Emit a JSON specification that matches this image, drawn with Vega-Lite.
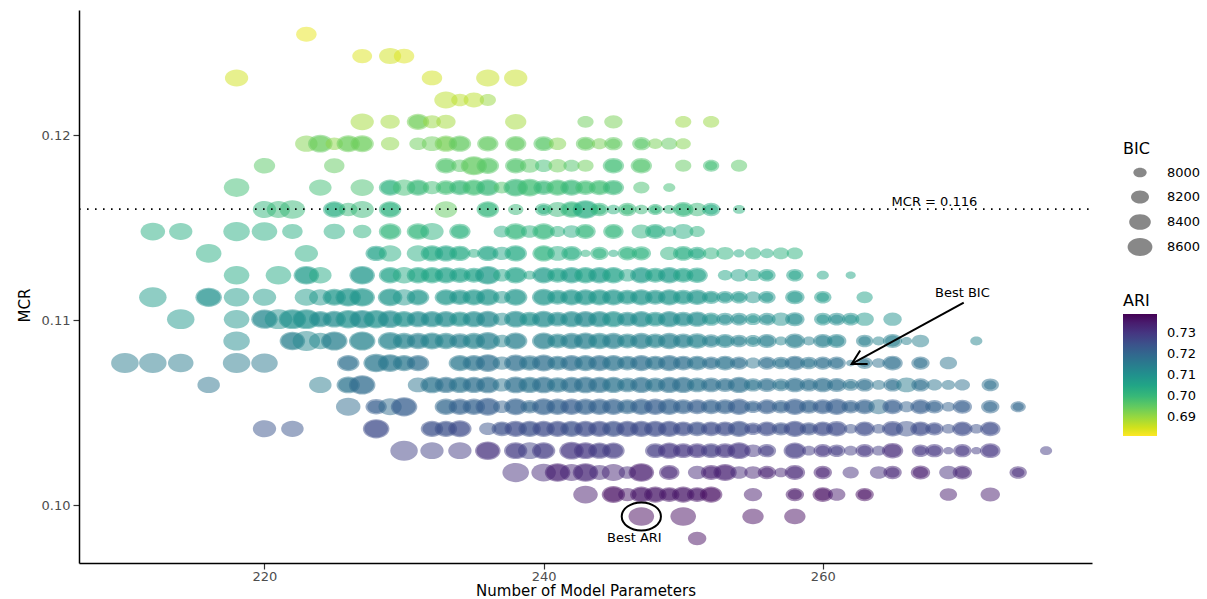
{
  "$schema": "https://vega.github.io/schema/vega-lite/v6.json",
  "width": 1013,
  "height": 553,
  "autosize": {"type": "none"},
  "padding": {"left": 79, "top": 10, "right": 115, "bottom": 36},
  "background": "white",
  "config": {
    "view": {"stroke": null},
    "axis": {
      "grid": false,
      "domainColor": "#000000",
      "domainWidth": 1.5,
      "tickColor": "#333333",
      "tickSize": 6,
      "tickWidth": 1.2,
      "labelColor": "#4d4d4d",
      "labelFont": "DejaVu Sans",
      "labelFontSize": 13,
      "labelPadding": 3,
      "titleFont": "DejaVu Sans",
      "titleFontSize": 15,
      "titleFontWeight": "normal",
      "titleColor": "#000000"
    },
    "legend": {
      "titleFont": "DejaVu Sans",
      "titleFontSize": 16,
      "titleFontWeight": "normal",
      "titleColor": "#000000",
      "labelFont": "DejaVu Sans",
      "labelFontSize": 13,
      "labelColor": "#000000",
      "padding": 0
    }
  },
  "datasets": {
    "models": [
      {"params":223,"mcr":0.12544,"bic":8330,"ari":0.683},
      {"params":227,"mcr":0.12426,"bic":8300,"ari":0.684},{"params":229,"mcr":0.12426,"bic":8430,"ari":0.685},{"params":230,"mcr":0.12426,"bic":8330,"ari":0.684},
      {"params":218,"mcr":0.12308,"bic":8500,"ari":0.685},{"params":232,"mcr":0.12308,"bic":8330,"ari":0.685},{"params":236,"mcr":0.12308,"bic":8500,"ari":0.686},{"params":238,"mcr":0.12308,"bic":8500,"ari":0.686},
      {"params":233,"mcr":0.12189,"bic":8500,"ari":0.687},{"params":234,"mcr":0.12189,"bic":8170,"ari":0.687},{"params":235,"mcr":0.12189,"bic":8330,"ari":0.687},{"params":236,"mcr":0.12189,"bic":8120,"ari":0.690},
      {"params":227,"mcr":0.12071,"bic":8500,"ari":0.689},{"params":229,"mcr":0.12071,"bic":8270,"ari":0.689},{"params":231,"mcr":0.12071,"bic":8450,"ari":0.693},{"params":231,"mcr":0.12071,"bic":8250,"ari":0.694},{"params":232,"mcr":0.12071,"bic":8200,"ari":0.690},{"params":233,"mcr":0.12071,"bic":8270,"ari":0.689},{"params":238,"mcr":0.12071,"bic":8380,"ari":0.689},{"params":243,"mcr":0.12071,"bic":8120,"ari":0.694},{"params":245,"mcr":0.12071,"bic":8220,"ari":0.693},{"params":250,"mcr":0.12071,"bic":8120,"ari":0.690},{"params":252,"mcr":0.12071,"bic":8120,"ari":0.690},
      {"params":223,"mcr":0.11953,"bic":8450,"ari":0.692},{"params":224,"mcr":0.11953,"bic":8580,"ari":0.695},{"params":224,"mcr":0.11953,"bic":8380,"ari":0.694},{"params":225,"mcr":0.11953,"bic":8170,"ari":0.691},{"params":226,"mcr":0.11953,"bic":8500,"ari":0.694},{"params":226,"mcr":0.11953,"bic":8300,"ari":0.694},{"params":227,"mcr":0.11953,"bic":8500,"ari":0.694},{"params":227,"mcr":0.11953,"bic":8300,"ari":0.694},{"params":229,"mcr":0.11953,"bic":8220,"ari":0.691},{"params":231,"mcr":0.11953,"bic":8170,"ari":0.694},{"params":232,"mcr":0.11953,"bic":8330,"ari":0.694},{"params":233,"mcr":0.11953,"bic":8450,"ari":0.693},{"params":233,"mcr":0.11953,"bic":8250,"ari":0.693},{"params":234,"mcr":0.11953,"bic":8450,"ari":0.695},{"params":234,"mcr":0.11953,"bic":8250,"ari":0.695},{"params":236,"mcr":0.11953,"bic":8380,"ari":0.695},{"params":236,"mcr":0.11953,"bic":8180,"ari":0.695},{"params":238,"mcr":0.11953,"bic":8380,"ari":0.695},{"params":238,"mcr":0.11953,"bic":8180,"ari":0.695},{"params":240,"mcr":0.11953,"bic":8330,"ari":0.696},{"params":240,"mcr":0.11953,"bic":8130,"ari":0.696},{"params":241,"mcr":0.11953,"bic":8170,"ari":0.692},{"params":243,"mcr":0.11953,"bic":8270,"ari":0.695},{"params":243,"mcr":0.11953,"bic":8070,"ari":0.695},{"params":244,"mcr":0.11953,"bic":8080,"ari":0.693},{"params":245,"mcr":0.11953,"bic":8220,"ari":0.695},{"params":245,"mcr":0.11953,"bic":8020,"ari":0.695},{"params":247,"mcr":0.11953,"bic":8220,"ari":0.696},{"params":247,"mcr":0.11953,"bic":8020,"ari":0.696},{"params":248,"mcr":0.11953,"bic":8040,"ari":0.693},{"params":249,"mcr":0.11953,"bic":8120,"ari":0.695},{"params":250,"mcr":0.11953,"bic":8080,"ari":0.692},
      {"params":220,"mcr":0.11834,"bic":8380,"ari":0.696},{"params":225,"mcr":0.11834,"bic":8330,"ari":0.695},{"params":233,"mcr":0.11834,"bic":8380,"ari":0.697},{"params":233,"mcr":0.11834,"bic":8180,"ari":0.697},{"params":234,"mcr":0.11834,"bic":8170,"ari":0.696},{"params":235,"mcr":0.11834,"bic":8700,"ari":0.695},{"params":235,"mcr":0.11834,"bic":8500,"ari":0.695},{"params":236,"mcr":0.11834,"bic":8450,"ari":0.696},{"params":236,"mcr":0.11834,"bic":8250,"ari":0.696},{"params":238,"mcr":0.11834,"bic":8380,"ari":0.697},{"params":238,"mcr":0.11834,"bic":8180,"ari":0.697},{"params":239,"mcr":0.11834,"bic":8270,"ari":0.696},{"params":240,"mcr":0.11834,"bic":8170,"ari":0.699},{"params":241,"mcr":0.11834,"bic":8220,"ari":0.694},{"params":242,"mcr":0.11834,"bic":8120,"ari":0.697},{"params":243,"mcr":0.11834,"bic":8120,"ari":0.694},{"params":245,"mcr":0.11834,"bic":8380,"ari":0.699},{"params":245,"mcr":0.11834,"bic":8180,"ari":0.699},{"params":247,"mcr":0.11834,"bic":8380,"ari":0.697},{"params":247,"mcr":0.11834,"bic":8180,"ari":0.697},{"params":250,"mcr":0.11834,"bic":8120,"ari":0.695},{"params":252,"mcr":0.11834,"bic":8120,"ari":0.699},{"params":252,"mcr":0.11834,"bic":7960,"ari":0.699},{"params":254,"mcr":0.11834,"bic":8120,"ari":0.696},
      {"params":218,"mcr":0.11716,"bic":8650,"ari":0.699},{"params":224,"mcr":0.11716,"bic":8450,"ari":0.699},{"params":227,"mcr":0.11716,"bic":8500,"ari":0.698},{"params":229,"mcr":0.11716,"bic":8450,"ari":0.702},{"params":229,"mcr":0.11716,"bic":8250,"ari":0.702},{"params":230,"mcr":0.11716,"bic":8450,"ari":0.699},{"params":231,"mcr":0.11716,"bic":8450,"ari":0.700},{"params":231,"mcr":0.11716,"bic":8250,"ari":0.700},{"params":232,"mcr":0.11716,"bic":8220,"ari":0.699},{"params":233,"mcr":0.11716,"bic":8330,"ari":0.699},{"params":233,"mcr":0.11716,"bic":8130,"ari":0.699},{"params":234,"mcr":0.11716,"bic":8380,"ari":0.700},{"params":234,"mcr":0.11716,"bic":8180,"ari":0.700},{"params":235,"mcr":0.11716,"bic":8450,"ari":0.699},{"params":235,"mcr":0.11716,"bic":8250,"ari":0.699},{"params":236,"mcr":0.11716,"bic":8500,"ari":0.700},{"params":236,"mcr":0.11716,"bic":8300,"ari":0.700},{"params":237,"mcr":0.11716,"bic":8120,"ari":0.697},{"params":238,"mcr":0.11716,"bic":8580,"ari":0.700},{"params":238,"mcr":0.11716,"bic":8380,"ari":0.700},{"params":239,"mcr":0.11716,"bic":8580,"ari":0.699},{"params":239,"mcr":0.11716,"bic":8380,"ari":0.699},{"params":240,"mcr":0.11716,"bic":8330,"ari":0.700},{"params":240,"mcr":0.11716,"bic":8130,"ari":0.700},{"params":241,"mcr":0.11716,"bic":8450,"ari":0.699},{"params":241,"mcr":0.11716,"bic":8250,"ari":0.699},{"params":242,"mcr":0.11716,"bic":8450,"ari":0.700},{"params":242,"mcr":0.11716,"bic":8250,"ari":0.700},{"params":243,"mcr":0.11716,"bic":8330,"ari":0.699},{"params":243,"mcr":0.11716,"bic":8130,"ari":0.699},{"params":244,"mcr":0.11716,"bic":8380,"ari":0.699},{"params":244,"mcr":0.11716,"bic":8180,"ari":0.699},{"params":245,"mcr":0.11716,"bic":8380,"ari":0.700},{"params":245,"mcr":0.11716,"bic":8180,"ari":0.700},{"params":247,"mcr":0.11716,"bic":8120,"ari":0.698},{"params":249,"mcr":0.11716,"bic":7960,"ari":0.699},
      {"params":220,"mcr":0.11598,"bic":8500,"ari":0.701},{"params":221,"mcr":0.11598,"bic":8500,"ari":0.700},{"params":222,"mcr":0.11598,"bic":8650,"ari":0.700},{"params":225,"mcr":0.11598,"bic":8450,"ari":0.703},{"params":225,"mcr":0.11598,"bic":8250,"ari":0.703},{"params":226,"mcr":0.11598,"bic":8220,"ari":0.700},{"params":227,"mcr":0.11598,"bic":8500,"ari":0.700},{"params":229,"mcr":0.11598,"bic":8450,"ari":0.702},{"params":229,"mcr":0.11598,"bic":8250,"ari":0.702},{"params":233,"mcr":0.11598,"bic":8450,"ari":0.695},{"params":236,"mcr":0.11598,"bic":8450,"ari":0.701},{"params":236,"mcr":0.11598,"bic":8250,"ari":0.701},{"params":238,"mcr":0.11598,"bic":8080,"ari":0.700},{"params":240,"mcr":0.11598,"bic":8170,"ari":0.702},{"params":240,"mcr":0.11598,"bic":7970,"ari":0.702},{"params":241,"mcr":0.11598,"bic":8330,"ari":0.700},{"params":242,"mcr":0.11598,"bic":8450,"ari":0.701},{"params":242,"mcr":0.11598,"bic":8250,"ari":0.701},{"params":243,"mcr":0.11598,"bic":8650,"ari":0.703},{"params":243,"mcr":0.11598,"bic":8450,"ari":0.703},{"params":244,"mcr":0.11598,"bic":8220,"ari":0.701},{"params":244,"mcr":0.11598,"bic":8020,"ari":0.701},{"params":245,"mcr":0.11598,"bic":8000,"ari":0.702},{"params":246,"mcr":0.11598,"bic":8220,"ari":0.700},{"params":246,"mcr":0.11598,"bic":8020,"ari":0.700},{"params":247,"mcr":0.11598,"bic":8000,"ari":0.700},{"params":248,"mcr":0.11598,"bic":8080,"ari":0.701},{"params":248,"mcr":0.11598,"bic":7930,"ari":0.701},{"params":249,"mcr":0.11598,"bic":7960,"ari":0.701},{"params":250,"mcr":0.11598,"bic":8330,"ari":0.701},{"params":250,"mcr":0.11598,"bic":8130,"ari":0.701},{"params":251,"mcr":0.11598,"bic":8220,"ari":0.700},{"params":252,"mcr":0.11598,"bic":8220,"ari":0.703},{"params":252,"mcr":0.11598,"bic":8020,"ari":0.703},{"params":254,"mcr":0.11598,"bic":7960,"ari":0.702},
      {"params":212,"mcr":0.11479,"bic":8580,"ari":0.703},{"params":214,"mcr":0.11479,"bic":8500,"ari":0.703},{"params":218,"mcr":0.11479,"bic":8720,"ari":0.703},{"params":220,"mcr":0.11479,"bic":8650,"ari":0.703},{"params":222,"mcr":0.11479,"bic":8330,"ari":0.703},{"params":225,"mcr":0.11479,"bic":8380,"ari":0.703},{"params":227,"mcr":0.11479,"bic":8220,"ari":0.702},{"params":229,"mcr":0.11479,"bic":8450,"ari":0.701},{"params":229,"mcr":0.11479,"bic":8250,"ari":0.701},{"params":231,"mcr":0.11479,"bic":8450,"ari":0.701},{"params":231,"mcr":0.11479,"bic":8250,"ari":0.701},{"params":232,"mcr":0.11479,"bic":8500,"ari":0.702},{"params":234,"mcr":0.11479,"bic":8380,"ari":0.702},{"params":234,"mcr":0.11479,"bic":8180,"ari":0.702},{"params":237,"mcr":0.11479,"bic":8120,"ari":0.703},{"params":238,"mcr":0.11479,"bic":8450,"ari":0.701},{"params":238,"mcr":0.11479,"bic":8250,"ari":0.701},{"params":239,"mcr":0.11479,"bic":8170,"ari":0.702},{"params":240,"mcr":0.11479,"bic":8450,"ari":0.701},{"params":240,"mcr":0.11479,"bic":8250,"ari":0.701},{"params":241,"mcr":0.11479,"bic":8080,"ari":0.702},{"params":242,"mcr":0.11479,"bic":8170,"ari":0.703},{"params":243,"mcr":0.11479,"bic":8330,"ari":0.701},{"params":243,"mcr":0.11479,"bic":8130,"ari":0.701},{"params":245,"mcr":0.11479,"bic":8330,"ari":0.701},{"params":245,"mcr":0.11479,"bic":8130,"ari":0.701},{"params":247,"mcr":0.11479,"bic":8270,"ari":0.702},{"params":248,"mcr":0.11479,"bic":8330,"ari":0.703},{"params":248,"mcr":0.11479,"bic":8130,"ari":0.703},{"params":249,"mcr":0.11479,"bic":8040,"ari":0.703},{"params":250,"mcr":0.11479,"bic":8330,"ari":0.703},{"params":251,"mcr":0.11479,"bic":8080,"ari":0.702},
      {"params":216,"mcr":0.11361,"bic":8650,"ari":0.703},{"params":223,"mcr":0.11361,"bic":8500,"ari":0.703},{"params":228,"mcr":0.11361,"bic":8380,"ari":0.706},{"params":228,"mcr":0.11361,"bic":8180,"ari":0.706},{"params":229,"mcr":0.11361,"bic":8450,"ari":0.703},{"params":231,"mcr":0.11361,"bic":8450,"ari":0.703},{"params":232,"mcr":0.11361,"bic":8450,"ari":0.704},{"params":232,"mcr":0.11361,"bic":8250,"ari":0.704},{"params":233,"mcr":0.11361,"bic":8450,"ari":0.705},{"params":233,"mcr":0.11361,"bic":8250,"ari":0.705},{"params":234,"mcr":0.11361,"bic":8380,"ari":0.704},{"params":234,"mcr":0.11361,"bic":8180,"ari":0.704},{"params":235,"mcr":0.11361,"bic":7960,"ari":0.703},{"params":236,"mcr":0.11361,"bic":8380,"ari":0.705},{"params":236,"mcr":0.11361,"bic":8180,"ari":0.705},{"params":237,"mcr":0.11361,"bic":8220,"ari":0.705},{"params":238,"mcr":0.11361,"bic":8450,"ari":0.704},{"params":238,"mcr":0.11361,"bic":8250,"ari":0.704},{"params":240,"mcr":0.11361,"bic":8450,"ari":0.702},{"params":240,"mcr":0.11361,"bic":8250,"ari":0.702},{"params":241,"mcr":0.11361,"bic":8330,"ari":0.703},{"params":242,"mcr":0.11361,"bic":8330,"ari":0.703},{"params":242,"mcr":0.11361,"bic":8130,"ari":0.703},{"params":243,"mcr":0.11361,"bic":7900,"ari":0.702},{"params":244,"mcr":0.11361,"bic":8220,"ari":0.702},{"params":244,"mcr":0.11361,"bic":8020,"ari":0.702},{"params":245,"mcr":0.11361,"bic":7900,"ari":0.703},{"params":246,"mcr":0.11361,"bic":8270,"ari":0.702},{"params":246,"mcr":0.11361,"bic":8070,"ari":0.702},{"params":247,"mcr":0.11361,"bic":8270,"ari":0.702},{"params":247,"mcr":0.11361,"bic":8070,"ari":0.702},{"params":249,"mcr":0.11361,"bic":8220,"ari":0.702},{"params":250,"mcr":0.11361,"bic":8330,"ari":0.703},{"params":250,"mcr":0.11361,"bic":8130,"ari":0.703},{"params":251,"mcr":0.11361,"bic":8220,"ari":0.704},{"params":251,"mcr":0.11361,"bic":8020,"ari":0.704},{"params":252,"mcr":0.11361,"bic":8120,"ari":0.702},{"params":253,"mcr":0.11361,"bic":8170,"ari":0.702},{"params":254,"mcr":0.11361,"bic":7930,"ari":0.704},{"params":255,"mcr":0.11361,"bic":8120,"ari":0.702},{"params":256,"mcr":0.11361,"bic":8000,"ari":0.703},{"params":257,"mcr":0.11361,"bic":8120,"ari":0.702},{"params":258,"mcr":0.11361,"bic":8120,"ari":0.702},
      {"params":218,"mcr":0.11243,"bic":8650,"ari":0.704},{"params":221,"mcr":0.11243,"bic":8650,"ari":0.704},{"params":223,"mcr":0.11243,"bic":8650,"ari":0.707},{"params":223,"mcr":0.11243,"bic":8450,"ari":0.707},{"params":224,"mcr":0.11243,"bic":8450,"ari":0.704},{"params":227,"mcr":0.11243,"bic":8650,"ari":0.708},{"params":227,"mcr":0.11243,"bic":8450,"ari":0.708},{"params":229,"mcr":0.11243,"bic":8450,"ari":0.706},{"params":229,"mcr":0.11243,"bic":8250,"ari":0.706},{"params":230,"mcr":0.11243,"bic":8450,"ari":0.704},{"params":231,"mcr":0.11243,"bic":8450,"ari":0.705},{"params":231,"mcr":0.11243,"bic":8250,"ari":0.705},{"params":232,"mcr":0.11243,"bic":8450,"ari":0.705},{"params":232,"mcr":0.11243,"bic":8250,"ari":0.705},{"params":233,"mcr":0.11243,"bic":8450,"ari":0.706},{"params":233,"mcr":0.11243,"bic":8250,"ari":0.706},{"params":234,"mcr":0.11243,"bic":8380,"ari":0.706},{"params":234,"mcr":0.11243,"bic":8180,"ari":0.706},{"params":235,"mcr":0.11243,"bic":8330,"ari":0.706},{"params":235,"mcr":0.11243,"bic":8130,"ari":0.706},{"params":236,"mcr":0.11243,"bic":8650,"ari":0.707},{"params":236,"mcr":0.11243,"bic":8450,"ari":0.707},{"params":237,"mcr":0.11243,"bic":8170,"ari":0.705},{"params":238,"mcr":0.11243,"bic":8450,"ari":0.706},{"params":238,"mcr":0.11243,"bic":8250,"ari":0.706},{"params":239,"mcr":0.11243,"bic":7960,"ari":0.705},{"params":240,"mcr":0.11243,"bic":8450,"ari":0.707},{"params":240,"mcr":0.11243,"bic":8250,"ari":0.707},{"params":241,"mcr":0.11243,"bic":8330,"ari":0.706},{"params":241,"mcr":0.11243,"bic":8130,"ari":0.706},{"params":242,"mcr":0.11243,"bic":8450,"ari":0.707},{"params":242,"mcr":0.11243,"bic":8250,"ari":0.707},{"params":243,"mcr":0.11243,"bic":8450,"ari":0.706},{"params":243,"mcr":0.11243,"bic":8250,"ari":0.706},{"params":244,"mcr":0.11243,"bic":8450,"ari":0.707},{"params":244,"mcr":0.11243,"bic":8250,"ari":0.707},{"params":245,"mcr":0.11243,"bic":8450,"ari":0.706},{"params":245,"mcr":0.11243,"bic":8250,"ari":0.706},{"params":246,"mcr":0.11243,"bic":8170,"ari":0.705},{"params":247,"mcr":0.11243,"bic":8450,"ari":0.707},{"params":247,"mcr":0.11243,"bic":8250,"ari":0.707},{"params":248,"mcr":0.11243,"bic":8330,"ari":0.706},{"params":248,"mcr":0.11243,"bic":8130,"ari":0.706},{"params":249,"mcr":0.11243,"bic":8450,"ari":0.707},{"params":249,"mcr":0.11243,"bic":8250,"ari":0.707},{"params":250,"mcr":0.11243,"bic":8330,"ari":0.706},{"params":250,"mcr":0.11243,"bic":8130,"ari":0.706},{"params":251,"mcr":0.11243,"bic":8380,"ari":0.706},{"params":251,"mcr":0.11243,"bic":8180,"ari":0.706},{"params":253,"mcr":0.11243,"bic":8040,"ari":0.705},{"params":254,"mcr":0.11243,"bic":8170,"ari":0.706},{"params":255,"mcr":0.11243,"bic":8120,"ari":0.705},{"params":256,"mcr":0.11243,"bic":8170,"ari":0.706},{"params":256,"mcr":0.11243,"bic":7970,"ari":0.706},{"params":258,"mcr":0.11243,"bic":8170,"ari":0.706},{"params":258,"mcr":0.11243,"bic":7970,"ari":0.706},{"params":260,"mcr":0.11243,"bic":7960,"ari":0.705},{"params":262,"mcr":0.11243,"bic":7900,"ari":0.705},
      {"params":212,"mcr":0.11124,"bic":8790,"ari":0.707},{"params":216,"mcr":0.11124,"bic":8720,"ari":0.710},{"params":216,"mcr":0.11124,"bic":8520,"ari":0.710},{"params":218,"mcr":0.11124,"bic":8650,"ari":0.707},{"params":220,"mcr":0.11124,"bic":8500,"ari":0.707},{"params":223,"mcr":0.11124,"bic":8500,"ari":0.707},{"params":224,"mcr":0.11124,"bic":8450,"ari":0.708},{"params":225,"mcr":0.11124,"bic":8500,"ari":0.708},{"params":225,"mcr":0.11124,"bic":8300,"ari":0.708},{"params":226,"mcr":0.11124,"bic":8650,"ari":0.709},{"params":226,"mcr":0.11124,"bic":8450,"ari":0.709},{"params":227,"mcr":0.11124,"bic":8650,"ari":0.709},{"params":227,"mcr":0.11124,"bic":8450,"ari":0.709},{"params":229,"mcr":0.11124,"bic":8580,"ari":0.709},{"params":229,"mcr":0.11124,"bic":8380,"ari":0.709},{"params":230,"mcr":0.11124,"bic":8450,"ari":0.708},{"params":231,"mcr":0.11124,"bic":8450,"ari":0.709},{"params":231,"mcr":0.11124,"bic":8250,"ari":0.709},{"params":233,"mcr":0.11124,"bic":8450,"ari":0.708},{"params":233,"mcr":0.11124,"bic":8250,"ari":0.708},{"params":234,"mcr":0.11124,"bic":8380,"ari":0.709},{"params":234,"mcr":0.11124,"bic":8180,"ari":0.709},{"params":235,"mcr":0.11124,"bic":8450,"ari":0.708},{"params":235,"mcr":0.11124,"bic":8250,"ari":0.708},{"params":236,"mcr":0.11124,"bic":8500,"ari":0.709},{"params":236,"mcr":0.11124,"bic":8300,"ari":0.709},{"params":237,"mcr":0.11124,"bic":8170,"ari":0.708},{"params":238,"mcr":0.11124,"bic":8500,"ari":0.709},{"params":238,"mcr":0.11124,"bic":8300,"ari":0.709},{"params":240,"mcr":0.11124,"bic":8500,"ari":0.709},{"params":240,"mcr":0.11124,"bic":8300,"ari":0.709},{"params":241,"mcr":0.11124,"bic":8330,"ari":0.708},{"params":241,"mcr":0.11124,"bic":8130,"ari":0.708},{"params":242,"mcr":0.11124,"bic":8450,"ari":0.709},{"params":242,"mcr":0.11124,"bic":8250,"ari":0.709},{"params":243,"mcr":0.11124,"bic":8450,"ari":0.709},{"params":243,"mcr":0.11124,"bic":8250,"ari":0.709},{"params":244,"mcr":0.11124,"bic":8450,"ari":0.708},{"params":244,"mcr":0.11124,"bic":8250,"ari":0.708},{"params":245,"mcr":0.11124,"bic":8450,"ari":0.709},{"params":245,"mcr":0.11124,"bic":8250,"ari":0.709},{"params":246,"mcr":0.11124,"bic":8330,"ari":0.708},{"params":246,"mcr":0.11124,"bic":8130,"ari":0.708},{"params":247,"mcr":0.11124,"bic":8450,"ari":0.709},{"params":247,"mcr":0.11124,"bic":8250,"ari":0.709},{"params":248,"mcr":0.11124,"bic":8330,"ari":0.709},{"params":248,"mcr":0.11124,"bic":8130,"ari":0.709},{"params":249,"mcr":0.11124,"bic":8450,"ari":0.709},{"params":249,"mcr":0.11124,"bic":8250,"ari":0.709},{"params":250,"mcr":0.11124,"bic":8330,"ari":0.708},{"params":250,"mcr":0.11124,"bic":8130,"ari":0.708},{"params":251,"mcr":0.11124,"bic":8380,"ari":0.709},{"params":251,"mcr":0.11124,"bic":8180,"ari":0.709},{"params":252,"mcr":0.11124,"bic":8220,"ari":0.708},{"params":252,"mcr":0.11124,"bic":8020,"ari":0.708},{"params":253,"mcr":0.11124,"bic":8170,"ari":0.709},{"params":253,"mcr":0.11124,"bic":7970,"ari":0.709},{"params":254,"mcr":0.11124,"bic":8170,"ari":0.708},{"params":254,"mcr":0.11124,"bic":7970,"ari":0.708},{"params":255,"mcr":0.11124,"bic":8120,"ari":0.709},{"params":256,"mcr":0.11124,"bic":8170,"ari":0.709},{"params":256,"mcr":0.11124,"bic":7970,"ari":0.709},{"params":258,"mcr":0.11124,"bic":8270,"ari":0.708},{"params":258,"mcr":0.11124,"bic":8070,"ari":0.708},{"params":260,"mcr":0.11124,"bic":8170,"ari":0.707},{"params":260,"mcr":0.11124,"bic":7970,"ari":0.707},{"params":263,"mcr":0.11124,"bic":8120,"ari":0.706},
      {"params":214,"mcr":0.11006,"bic":8790,"ari":0.708},{"params":218,"mcr":0.11006,"bic":8650,"ari":0.709},{"params":220,"mcr":0.11006,"bic":8720,"ari":0.712},{"params":220,"mcr":0.11006,"bic":8520,"ari":0.712},{"params":221,"mcr":0.11006,"bic":8790,"ari":0.710},{"params":222,"mcr":0.11006,"bic":8790,"ari":0.710},{"params":222,"mcr":0.11006,"bic":8590,"ari":0.710},{"params":223,"mcr":0.11006,"bic":8790,"ari":0.710},{"params":223,"mcr":0.11006,"bic":8590,"ari":0.710},{"params":224,"mcr":0.11006,"bic":8450,"ari":0.711},{"params":224,"mcr":0.11006,"bic":8250,"ari":0.711},{"params":225,"mcr":0.11006,"bic":8500,"ari":0.711},{"params":225,"mcr":0.11006,"bic":8300,"ari":0.711},{"params":226,"mcr":0.11006,"bic":8650,"ari":0.710},{"params":226,"mcr":0.11006,"bic":8450,"ari":0.710},{"params":227,"mcr":0.11006,"bic":8650,"ari":0.711},{"params":227,"mcr":0.11006,"bic":8450,"ari":0.711},{"params":228,"mcr":0.11006,"bic":8650,"ari":0.710},{"params":228,"mcr":0.11006,"bic":8450,"ari":0.710},{"params":229,"mcr":0.11006,"bic":8580,"ari":0.711},{"params":229,"mcr":0.11006,"bic":8380,"ari":0.711},{"params":230,"mcr":0.11006,"bic":8450,"ari":0.710},{"params":230,"mcr":0.11006,"bic":8250,"ari":0.710},{"params":231,"mcr":0.11006,"bic":8450,"ari":0.711},{"params":231,"mcr":0.11006,"bic":8250,"ari":0.711},{"params":232,"mcr":0.11006,"bic":8450,"ari":0.711},{"params":232,"mcr":0.11006,"bic":8250,"ari":0.711},{"params":233,"mcr":0.11006,"bic":8450,"ari":0.711},{"params":233,"mcr":0.11006,"bic":8250,"ari":0.711},{"params":234,"mcr":0.11006,"bic":8380,"ari":0.710},{"params":234,"mcr":0.11006,"bic":8180,"ari":0.710},{"params":235,"mcr":0.11006,"bic":8450,"ari":0.711},{"params":235,"mcr":0.11006,"bic":8250,"ari":0.711},{"params":236,"mcr":0.11006,"bic":8500,"ari":0.712},{"params":236,"mcr":0.11006,"bic":8300,"ari":0.712},{"params":237,"mcr":0.11006,"bic":8170,"ari":0.711},{"params":238,"mcr":0.11006,"bic":8500,"ari":0.711},{"params":238,"mcr":0.11006,"bic":8300,"ari":0.711},{"params":239,"mcr":0.11006,"bic":8330,"ari":0.710},{"params":239,"mcr":0.11006,"bic":8130,"ari":0.710},{"params":240,"mcr":0.11006,"bic":8500,"ari":0.711},{"params":240,"mcr":0.11006,"bic":8300,"ari":0.711},{"params":241,"mcr":0.11006,"bic":8330,"ari":0.711},{"params":241,"mcr":0.11006,"bic":8130,"ari":0.711},{"params":242,"mcr":0.11006,"bic":8450,"ari":0.711},{"params":242,"mcr":0.11006,"bic":8250,"ari":0.711},{"params":243,"mcr":0.11006,"bic":8450,"ari":0.712},{"params":243,"mcr":0.11006,"bic":8250,"ari":0.712},{"params":244,"mcr":0.11006,"bic":8450,"ari":0.711},{"params":244,"mcr":0.11006,"bic":8250,"ari":0.711},{"params":245,"mcr":0.11006,"bic":8450,"ari":0.710},{"params":245,"mcr":0.11006,"bic":8250,"ari":0.710},{"params":246,"mcr":0.11006,"bic":8330,"ari":0.711},{"params":246,"mcr":0.11006,"bic":8130,"ari":0.711},{"params":247,"mcr":0.11006,"bic":8450,"ari":0.711},{"params":247,"mcr":0.11006,"bic":8250,"ari":0.711},{"params":248,"mcr":0.11006,"bic":8330,"ari":0.710},{"params":248,"mcr":0.11006,"bic":8130,"ari":0.710},{"params":249,"mcr":0.11006,"bic":8450,"ari":0.711},{"params":249,"mcr":0.11006,"bic":8250,"ari":0.711},{"params":250,"mcr":0.11006,"bic":8330,"ari":0.711},{"params":250,"mcr":0.11006,"bic":8130,"ari":0.711},{"params":251,"mcr":0.11006,"bic":8380,"ari":0.711},{"params":251,"mcr":0.11006,"bic":8180,"ari":0.711},{"params":252,"mcr":0.11006,"bic":8220,"ari":0.710},{"params":252,"mcr":0.11006,"bic":8020,"ari":0.710},{"params":253,"mcr":0.11006,"bic":8170,"ari":0.711},{"params":253,"mcr":0.11006,"bic":7970,"ari":0.711},{"params":254,"mcr":0.11006,"bic":8170,"ari":0.711},{"params":254,"mcr":0.11006,"bic":7970,"ari":0.711},{"params":255,"mcr":0.11006,"bic":8120,"ari":0.710},{"params":255,"mcr":0.11006,"bic":7920,"ari":0.710},{"params":256,"mcr":0.11006,"bic":8170,"ari":0.711},{"params":256,"mcr":0.11006,"bic":7970,"ari":0.711},{"params":257,"mcr":0.11006,"bic":8220,"ari":0.710},{"params":258,"mcr":0.11006,"bic":8270,"ari":0.711},{"params":258,"mcr":0.11006,"bic":8070,"ari":0.711},{"params":260,"mcr":0.11006,"bic":8170,"ari":0.710},{"params":260,"mcr":0.11006,"bic":7970,"ari":0.710},{"params":261,"mcr":0.11006,"bic":8170,"ari":0.711},{"params":261,"mcr":0.11006,"bic":7970,"ari":0.711},{"params":262,"mcr":0.11006,"bic":8170,"ari":0.710},{"params":262,"mcr":0.11006,"bic":7970,"ari":0.710},{"params":263,"mcr":0.11006,"bic":8220,"ari":0.708},{"params":265,"mcr":0.11006,"bic":8220,"ari":0.710},
      {"params":218,"mcr":0.10888,"bic":8720,"ari":0.711},{"params":222,"mcr":0.10888,"bic":8650,"ari":0.714},{"params":222,"mcr":0.10888,"bic":8450,"ari":0.714},{"params":223,"mcr":0.10888,"bic":8790,"ari":0.712},{"params":224,"mcr":0.10888,"bic":8450,"ari":0.712},{"params":225,"mcr":0.10888,"bic":8720,"ari":0.714},{"params":225,"mcr":0.10888,"bic":8520,"ari":0.714},{"params":227,"mcr":0.10888,"bic":8720,"ari":0.713},{"params":227,"mcr":0.10888,"bic":8520,"ari":0.713},{"params":229,"mcr":0.10888,"bic":8580,"ari":0.713},{"params":229,"mcr":0.10888,"bic":8380,"ari":0.713},{"params":230,"mcr":0.10888,"bic":8450,"ari":0.713},{"params":230,"mcr":0.10888,"bic":8250,"ari":0.713},{"params":231,"mcr":0.10888,"bic":8450,"ari":0.714},{"params":231,"mcr":0.10888,"bic":8250,"ari":0.714},{"params":232,"mcr":0.10888,"bic":8500,"ari":0.713},{"params":232,"mcr":0.10888,"bic":8300,"ari":0.713},{"params":233,"mcr":0.10888,"bic":8450,"ari":0.713},{"params":233,"mcr":0.10888,"bic":8250,"ari":0.713},{"params":234,"mcr":0.10888,"bic":8380,"ari":0.714},{"params":234,"mcr":0.10888,"bic":8180,"ari":0.714},{"params":235,"mcr":0.10888,"bic":8450,"ari":0.713},{"params":235,"mcr":0.10888,"bic":8250,"ari":0.713},{"params":236,"mcr":0.10888,"bic":8580,"ari":0.714},{"params":236,"mcr":0.10888,"bic":8380,"ari":0.714},{"params":237,"mcr":0.10888,"bic":8170,"ari":0.713},{"params":238,"mcr":0.10888,"bic":8500,"ari":0.714},{"params":238,"mcr":0.10888,"bic":8300,"ari":0.714},{"params":240,"mcr":0.10888,"bic":8500,"ari":0.714},{"params":240,"mcr":0.10888,"bic":8300,"ari":0.714},{"params":241,"mcr":0.10888,"bic":8330,"ari":0.713},{"params":241,"mcr":0.10888,"bic":8130,"ari":0.713},{"params":242,"mcr":0.10888,"bic":8450,"ari":0.714},{"params":242,"mcr":0.10888,"bic":8250,"ari":0.714},{"params":243,"mcr":0.10888,"bic":8500,"ari":0.714},{"params":243,"mcr":0.10888,"bic":8300,"ari":0.714},{"params":244,"mcr":0.10888,"bic":8450,"ari":0.713},{"params":244,"mcr":0.10888,"bic":8250,"ari":0.713},{"params":245,"mcr":0.10888,"bic":8450,"ari":0.714},{"params":245,"mcr":0.10888,"bic":8250,"ari":0.714},{"params":246,"mcr":0.10888,"bic":8330,"ari":0.713},{"params":246,"mcr":0.10888,"bic":8130,"ari":0.713},{"params":247,"mcr":0.10888,"bic":8450,"ari":0.714},{"params":247,"mcr":0.10888,"bic":8250,"ari":0.714},{"params":248,"mcr":0.10888,"bic":8330,"ari":0.713},{"params":248,"mcr":0.10888,"bic":8130,"ari":0.713},{"params":249,"mcr":0.10888,"bic":8450,"ari":0.714},{"params":249,"mcr":0.10888,"bic":8250,"ari":0.714},{"params":250,"mcr":0.10888,"bic":8330,"ari":0.714},{"params":250,"mcr":0.10888,"bic":8130,"ari":0.714},{"params":251,"mcr":0.10888,"bic":8380,"ari":0.713},{"params":251,"mcr":0.10888,"bic":8180,"ari":0.713},{"params":252,"mcr":0.10888,"bic":8220,"ari":0.714},{"params":252,"mcr":0.10888,"bic":8020,"ari":0.714},{"params":253,"mcr":0.10888,"bic":8270,"ari":0.713},{"params":253,"mcr":0.10888,"bic":8070,"ari":0.713},{"params":254,"mcr":0.10888,"bic":8170,"ari":0.714},{"params":254,"mcr":0.10888,"bic":7970,"ari":0.714},{"params":255,"mcr":0.10888,"bic":8120,"ari":0.713},{"params":255,"mcr":0.10888,"bic":7920,"ari":0.713},{"params":256,"mcr":0.10888,"bic":8270,"ari":0.714},{"params":256,"mcr":0.10888,"bic":8070,"ari":0.714},{"params":257,"mcr":0.10888,"bic":7960,"ari":0.713},{"params":258,"mcr":0.10888,"bic":8330,"ari":0.714},{"params":258,"mcr":0.10888,"bic":8130,"ari":0.714},{"params":259,"mcr":0.10888,"bic":7960,"ari":0.714},{"params":260,"mcr":0.10888,"bic":8270,"ari":0.714},{"params":260,"mcr":0.10888,"bic":8070,"ari":0.714},{"params":261,"mcr":0.10888,"bic":8270,"ari":0.713},{"params":261,"mcr":0.10888,"bic":8070,"ari":0.713},{"params":263,"mcr":0.10888,"bic":8170,"ari":0.714},{"params":263,"mcr":0.10888,"bic":7970,"ari":0.714},{"params":264,"mcr":0.10888,"bic":7960,"ari":0.713},{"params":265,"mcr":0.10888,"bic":8270,"ari":0.714},{"params":265,"mcr":0.10888,"bic":8070,"ari":0.714},{"params":266,"mcr":0.10888,"bic":7930,"ari":0.714},{"params":267,"mcr":0.10888,"bic":8170,"ari":0.714},{"params":271,"mcr":0.10888,"bic":7960,"ari":0.713},
      {"params":210,"mcr":0.10769,"bic":8800,"ari":0.715},{"params":212,"mcr":0.10769,"bic":8790,"ari":0.715},{"params":214,"mcr":0.10769,"bic":8650,"ari":0.715},{"params":218,"mcr":0.10769,"bic":8790,"ari":0.715},{"params":220,"mcr":0.10769,"bic":8720,"ari":0.716},{"params":226,"mcr":0.10769,"bic":8450,"ari":0.718},{"params":226,"mcr":0.10769,"bic":8250,"ari":0.718},{"params":228,"mcr":0.10769,"bic":8650,"ari":0.716},{"params":228,"mcr":0.10769,"bic":8450,"ari":0.716},{"params":229,"mcr":0.10769,"bic":8580,"ari":0.716},{"params":229,"mcr":0.10769,"bic":8380,"ari":0.716},{"params":230,"mcr":0.10769,"bic":8450,"ari":0.716},{"params":230,"mcr":0.10769,"bic":8250,"ari":0.716},{"params":231,"mcr":0.10769,"bic":8450,"ari":0.718},{"params":231,"mcr":0.10769,"bic":8250,"ari":0.718},{"params":234,"mcr":0.10769,"bic":8450,"ari":0.716},{"params":234,"mcr":0.10769,"bic":8250,"ari":0.716},{"params":235,"mcr":0.10769,"bic":8450,"ari":0.717},{"params":235,"mcr":0.10769,"bic":8250,"ari":0.717},{"params":236,"mcr":0.10769,"bic":8580,"ari":0.718},{"params":236,"mcr":0.10769,"bic":8380,"ari":0.718},{"params":237,"mcr":0.10769,"bic":8220,"ari":0.717},{"params":238,"mcr":0.10769,"bic":8500,"ari":0.718},{"params":238,"mcr":0.10769,"bic":8300,"ari":0.718},{"params":239,"mcr":0.10769,"bic":8380,"ari":0.717},{"params":239,"mcr":0.10769,"bic":8180,"ari":0.717},{"params":240,"mcr":0.10769,"bic":8500,"ari":0.718},{"params":240,"mcr":0.10769,"bic":8300,"ari":0.718},{"params":241,"mcr":0.10769,"bic":8330,"ari":0.717},{"params":241,"mcr":0.10769,"bic":8130,"ari":0.717},{"params":242,"mcr":0.10769,"bic":8450,"ari":0.718},{"params":242,"mcr":0.10769,"bic":8250,"ari":0.718},{"params":243,"mcr":0.10769,"bic":8450,"ari":0.717},{"params":243,"mcr":0.10769,"bic":8250,"ari":0.717},{"params":244,"mcr":0.10769,"bic":8450,"ari":0.718},{"params":244,"mcr":0.10769,"bic":8250,"ari":0.718},{"params":245,"mcr":0.10769,"bic":8450,"ari":0.717},{"params":245,"mcr":0.10769,"bic":8250,"ari":0.717},{"params":246,"mcr":0.10769,"bic":8330,"ari":0.717},{"params":246,"mcr":0.10769,"bic":8130,"ari":0.717},{"params":247,"mcr":0.10769,"bic":8450,"ari":0.718},{"params":247,"mcr":0.10769,"bic":8250,"ari":0.718},{"params":248,"mcr":0.10769,"bic":8330,"ari":0.717},{"params":248,"mcr":0.10769,"bic":8130,"ari":0.717},{"params":249,"mcr":0.10769,"bic":8450,"ari":0.718},{"params":249,"mcr":0.10769,"bic":8250,"ari":0.718},{"params":250,"mcr":0.10769,"bic":8330,"ari":0.718},{"params":250,"mcr":0.10769,"bic":8130,"ari":0.718},{"params":251,"mcr":0.10769,"bic":8330,"ari":0.717},{"params":251,"mcr":0.10769,"bic":8130,"ari":0.717},{"params":252,"mcr":0.10769,"bic":8220,"ari":0.718},{"params":252,"mcr":0.10769,"bic":8020,"ari":0.718},{"params":253,"mcr":0.10769,"bic":8330,"ari":0.717},{"params":253,"mcr":0.10769,"bic":8130,"ari":0.717},{"params":254,"mcr":0.10769,"bic":8220,"ari":0.718},{"params":254,"mcr":0.10769,"bic":8020,"ari":0.718},{"params":255,"mcr":0.10769,"bic":8080,"ari":0.717},{"params":256,"mcr":0.10769,"bic":8220,"ari":0.718},{"params":256,"mcr":0.10769,"bic":8020,"ari":0.718},{"params":257,"mcr":0.10769,"bic":8170,"ari":0.717},{"params":257,"mcr":0.10769,"bic":7970,"ari":0.717},{"params":258,"mcr":0.10769,"bic":8330,"ari":0.718},{"params":258,"mcr":0.10769,"bic":8130,"ari":0.718},{"params":259,"mcr":0.10769,"bic":8170,"ari":0.717},{"params":259,"mcr":0.10769,"bic":7970,"ari":0.717},{"params":260,"mcr":0.10769,"bic":8220,"ari":0.718},{"params":260,"mcr":0.10769,"bic":8020,"ari":0.718},{"params":261,"mcr":0.10769,"bic":8220,"ari":0.718},{"params":261,"mcr":0.10769,"bic":8020,"ari":0.718},{"params":262,"mcr":0.10769,"bic":7880,"ari":0.717},{"params":263,"mcr":0.10769,"bic":8120,"ari":0.717},{"params":263,"mcr":0.10769,"bic":7920,"ari":0.717},{"params":264,"mcr":0.10769,"bic":8000,"ari":0.718},{"params":265,"mcr":0.10769,"bic":8330,"ari":0.718},{"params":265,"mcr":0.10769,"bic":8130,"ari":0.718},{"params":267,"mcr":0.10769,"bic":8220,"ari":0.718},{"params":267,"mcr":0.10769,"bic":8020,"ari":0.718},{"params":269,"mcr":0.10769,"bic":8170,"ari":0.717},
      {"params":216,"mcr":0.10651,"bic":8450,"ari":0.717},{"params":224,"mcr":0.10651,"bic":8450,"ari":0.715},{"params":226,"mcr":0.10651,"bic":8500,"ari":0.717},{"params":226,"mcr":0.10651,"bic":8300,"ari":0.717},{"params":227,"mcr":0.10651,"bic":8720,"ari":0.719},{"params":227,"mcr":0.10651,"bic":8520,"ari":0.719},{"params":231,"mcr":0.10651,"bic":8330,"ari":0.717},{"params":232,"mcr":0.10651,"bic":8500,"ari":0.717},{"params":232,"mcr":0.10651,"bic":8300,"ari":0.717},{"params":233,"mcr":0.10651,"bic":8450,"ari":0.718},{"params":233,"mcr":0.10651,"bic":8250,"ari":0.718},{"params":234,"mcr":0.10651,"bic":8450,"ari":0.717},{"params":234,"mcr":0.10651,"bic":8250,"ari":0.717},{"params":235,"mcr":0.10651,"bic":8450,"ari":0.718},{"params":235,"mcr":0.10651,"bic":8250,"ari":0.718},{"params":236,"mcr":0.10651,"bic":8500,"ari":0.718},{"params":236,"mcr":0.10651,"bic":8300,"ari":0.718},{"params":237,"mcr":0.10651,"bic":8220,"ari":0.717},{"params":238,"mcr":0.10651,"bic":8500,"ari":0.718},{"params":238,"mcr":0.10651,"bic":8300,"ari":0.718},{"params":239,"mcr":0.10651,"bic":8450,"ari":0.717},{"params":239,"mcr":0.10651,"bic":8250,"ari":0.717},{"params":240,"mcr":0.10651,"bic":8500,"ari":0.718},{"params":240,"mcr":0.10651,"bic":8300,"ari":0.718},{"params":241,"mcr":0.10651,"bic":8380,"ari":0.717},{"params":241,"mcr":0.10651,"bic":8180,"ari":0.717},{"params":242,"mcr":0.10651,"bic":8450,"ari":0.718},{"params":242,"mcr":0.10651,"bic":8250,"ari":0.718},{"params":243,"mcr":0.10651,"bic":8500,"ari":0.718},{"params":243,"mcr":0.10651,"bic":8300,"ari":0.718},{"params":244,"mcr":0.10651,"bic":8450,"ari":0.718},{"params":244,"mcr":0.10651,"bic":8250,"ari":0.718},{"params":245,"mcr":0.10651,"bic":8450,"ari":0.717},{"params":245,"mcr":0.10651,"bic":8250,"ari":0.717},{"params":246,"mcr":0.10651,"bic":8330,"ari":0.717},{"params":246,"mcr":0.10651,"bic":8130,"ari":0.717},{"params":247,"mcr":0.10651,"bic":8450,"ari":0.718},{"params":247,"mcr":0.10651,"bic":8250,"ari":0.718},{"params":248,"mcr":0.10651,"bic":8330,"ari":0.717},{"params":248,"mcr":0.10651,"bic":8130,"ari":0.717},{"params":249,"mcr":0.10651,"bic":8450,"ari":0.718},{"params":249,"mcr":0.10651,"bic":8250,"ari":0.718},{"params":250,"mcr":0.10651,"bic":8450,"ari":0.718},{"params":250,"mcr":0.10651,"bic":8250,"ari":0.718},{"params":251,"mcr":0.10651,"bic":8330,"ari":0.717},{"params":251,"mcr":0.10651,"bic":8130,"ari":0.717},{"params":252,"mcr":0.10651,"bic":8330,"ari":0.718},{"params":252,"mcr":0.10651,"bic":8130,"ari":0.718},{"params":253,"mcr":0.10651,"bic":8270,"ari":0.718},{"params":253,"mcr":0.10651,"bic":8070,"ari":0.718},{"params":254,"mcr":0.10651,"bic":8450,"ari":0.718},{"params":254,"mcr":0.10651,"bic":8250,"ari":0.718},{"params":255,"mcr":0.10651,"bic":8220,"ari":0.717},{"params":255,"mcr":0.10651,"bic":8020,"ari":0.717},{"params":256,"mcr":0.10651,"bic":8270,"ari":0.718},{"params":256,"mcr":0.10651,"bic":8070,"ari":0.718},{"params":257,"mcr":0.10651,"bic":8170,"ari":0.717},{"params":257,"mcr":0.10651,"bic":7970,"ari":0.717},{"params":258,"mcr":0.10651,"bic":8330,"ari":0.718},{"params":258,"mcr":0.10651,"bic":8130,"ari":0.718},{"params":259,"mcr":0.10651,"bic":8220,"ari":0.718},{"params":259,"mcr":0.10651,"bic":8020,"ari":0.718},{"params":260,"mcr":0.10651,"bic":8330,"ari":0.718},{"params":260,"mcr":0.10651,"bic":8130,"ari":0.718},{"params":261,"mcr":0.10651,"bic":8270,"ari":0.718},{"params":261,"mcr":0.10651,"bic":8070,"ari":0.718},{"params":262,"mcr":0.10651,"bic":8120,"ari":0.717},{"params":262,"mcr":0.10651,"bic":7920,"ari":0.717},{"params":263,"mcr":0.10651,"bic":8220,"ari":0.718},{"params":263,"mcr":0.10651,"bic":8020,"ari":0.718},{"params":264,"mcr":0.10651,"bic":8000,"ari":0.717},{"params":265,"mcr":0.10651,"bic":8220,"ari":0.718},{"params":265,"mcr":0.10651,"bic":8020,"ari":0.718},{"params":266,"mcr":0.10651,"bic":8330,"ari":0.715},{"params":267,"mcr":0.10651,"bic":8220,"ari":0.718},{"params":267,"mcr":0.10651,"bic":8020,"ari":0.718},{"params":268,"mcr":0.10651,"bic":8080,"ari":0.717},{"params":269,"mcr":0.10651,"bic":8000,"ari":0.717},{"params":270,"mcr":0.10651,"bic":8080,"ari":0.718},{"params":272,"mcr":0.10651,"bic":8170,"ari":0.718},{"params":272,"mcr":0.10651,"bic":7970,"ari":0.718},
      {"params":226,"mcr":0.10533,"bic":8580,"ari":0.719},{"params":228,"mcr":0.10533,"bic":8380,"ari":0.722},{"params":228,"mcr":0.10533,"bic":8180,"ari":0.722},{"params":229,"mcr":0.10533,"bic":8500,"ari":0.719},{"params":230,"mcr":0.10533,"bic":8720,"ari":0.722},{"params":230,"mcr":0.10533,"bic":8520,"ari":0.722},{"params":233,"mcr":0.10533,"bic":8450,"ari":0.720},{"params":233,"mcr":0.10533,"bic":8250,"ari":0.720},{"params":234,"mcr":0.10533,"bic":8450,"ari":0.721},{"params":234,"mcr":0.10533,"bic":8250,"ari":0.721},{"params":235,"mcr":0.10533,"bic":8450,"ari":0.721},{"params":235,"mcr":0.10533,"bic":8250,"ari":0.721},{"params":236,"mcr":0.10533,"bic":8580,"ari":0.722},{"params":236,"mcr":0.10533,"bic":8380,"ari":0.722},{"params":237,"mcr":0.10533,"bic":8170,"ari":0.721},{"params":238,"mcr":0.10533,"bic":8500,"ari":0.721},{"params":238,"mcr":0.10533,"bic":8300,"ari":0.721},{"params":239,"mcr":0.10533,"bic":8220,"ari":0.720},{"params":239,"mcr":0.10533,"bic":8020,"ari":0.720},{"params":240,"mcr":0.10533,"bic":8500,"ari":0.721},{"params":240,"mcr":0.10533,"bic":8300,"ari":0.721},{"params":241,"mcr":0.10533,"bic":8450,"ari":0.721},{"params":241,"mcr":0.10533,"bic":8250,"ari":0.721},{"params":242,"mcr":0.10533,"bic":8450,"ari":0.722},{"params":242,"mcr":0.10533,"bic":8250,"ari":0.722},{"params":243,"mcr":0.10533,"bic":8450,"ari":0.721},{"params":243,"mcr":0.10533,"bic":8250,"ari":0.721},{"params":244,"mcr":0.10533,"bic":8450,"ari":0.721},{"params":244,"mcr":0.10533,"bic":8250,"ari":0.721},{"params":245,"mcr":0.10533,"bic":8450,"ari":0.721},{"params":245,"mcr":0.10533,"bic":8250,"ari":0.721},{"params":246,"mcr":0.10533,"bic":8330,"ari":0.720},{"params":246,"mcr":0.10533,"bic":8130,"ari":0.720},{"params":247,"mcr":0.10533,"bic":8450,"ari":0.721},{"params":247,"mcr":0.10533,"bic":8250,"ari":0.721},{"params":248,"mcr":0.10533,"bic":8450,"ari":0.722},{"params":248,"mcr":0.10533,"bic":8250,"ari":0.722},{"params":249,"mcr":0.10533,"bic":8450,"ari":0.721},{"params":249,"mcr":0.10533,"bic":8250,"ari":0.721},{"params":250,"mcr":0.10533,"bic":8330,"ari":0.721},{"params":250,"mcr":0.10533,"bic":8130,"ari":0.721},{"params":251,"mcr":0.10533,"bic":8330,"ari":0.722},{"params":251,"mcr":0.10533,"bic":8130,"ari":0.722},{"params":252,"mcr":0.10533,"bic":8330,"ari":0.721},{"params":252,"mcr":0.10533,"bic":8130,"ari":0.721},{"params":253,"mcr":0.10533,"bic":8330,"ari":0.721},{"params":253,"mcr":0.10533,"bic":8130,"ari":0.721},{"params":254,"mcr":0.10533,"bic":8450,"ari":0.722},{"params":254,"mcr":0.10533,"bic":8250,"ari":0.722},{"params":255,"mcr":0.10533,"bic":8170,"ari":0.721},{"params":255,"mcr":0.10533,"bic":7970,"ari":0.721},{"params":256,"mcr":0.10533,"bic":8330,"ari":0.722},{"params":256,"mcr":0.10533,"bic":8130,"ari":0.722},{"params":257,"mcr":0.10533,"bic":8220,"ari":0.721},{"params":257,"mcr":0.10533,"bic":8020,"ari":0.721},{"params":258,"mcr":0.10533,"bic":8450,"ari":0.722},{"params":258,"mcr":0.10533,"bic":8250,"ari":0.722},{"params":259,"mcr":0.10533,"bic":8270,"ari":0.721},{"params":259,"mcr":0.10533,"bic":8070,"ari":0.721},{"params":260,"mcr":0.10533,"bic":8330,"ari":0.722},{"params":260,"mcr":0.10533,"bic":8130,"ari":0.722},{"params":261,"mcr":0.10533,"bic":8450,"ari":0.722},{"params":261,"mcr":0.10533,"bic":8250,"ari":0.722},{"params":262,"mcr":0.10533,"bic":8220,"ari":0.721},{"params":262,"mcr":0.10533,"bic":8020,"ari":0.721},{"params":263,"mcr":0.10533,"bic":8330,"ari":0.721},{"params":263,"mcr":0.10533,"bic":8130,"ari":0.721},{"params":264,"mcr":0.10533,"bic":8330,"ari":0.718},{"params":265,"mcr":0.10533,"bic":8330,"ari":0.722},{"params":265,"mcr":0.10533,"bic":8130,"ari":0.722},{"params":266,"mcr":0.10533,"bic":8080,"ari":0.721},{"params":267,"mcr":0.10533,"bic":8330,"ari":0.722},{"params":267,"mcr":0.10533,"bic":8130,"ari":0.722},{"params":268,"mcr":0.10533,"bic":8220,"ari":0.721},{"params":268,"mcr":0.10533,"bic":8020,"ari":0.721},{"params":269,"mcr":0.10533,"bic":8000,"ari":0.721},{"params":270,"mcr":0.10533,"bic":8270,"ari":0.722},{"params":270,"mcr":0.10533,"bic":8070,"ari":0.722},{"params":272,"mcr":0.10533,"bic":8220,"ari":0.720},{"params":272,"mcr":0.10533,"bic":8020,"ari":0.720},{"params":274,"mcr":0.10533,"bic":8080,"ari":0.720},{"params":274,"mcr":0.10533,"bic":7930,"ari":0.720},
      {"params":220,"mcr":0.10414,"bic":8500,"ari":0.724},{"params":222,"mcr":0.10414,"bic":8450,"ari":0.724},{"params":228,"mcr":0.10414,"bic":8720,"ari":0.726},{"params":228,"mcr":0.10414,"bic":8520,"ari":0.726},{"params":232,"mcr":0.10414,"bic":8450,"ari":0.725},{"params":232,"mcr":0.10414,"bic":8250,"ari":0.725},{"params":233,"mcr":0.10414,"bic":8450,"ari":0.725},{"params":233,"mcr":0.10414,"bic":8250,"ari":0.725},{"params":234,"mcr":0.10414,"bic":8500,"ari":0.726},{"params":234,"mcr":0.10414,"bic":8300,"ari":0.726},{"params":236,"mcr":0.10414,"bic":8170,"ari":0.724},{"params":237,"mcr":0.10414,"bic":8330,"ari":0.725},{"params":237,"mcr":0.10414,"bic":8130,"ari":0.725},{"params":238,"mcr":0.10414,"bic":8450,"ari":0.726},{"params":238,"mcr":0.10414,"bic":8250,"ari":0.726},{"params":239,"mcr":0.10414,"bic":8450,"ari":0.725},{"params":239,"mcr":0.10414,"bic":8250,"ari":0.725},{"params":240,"mcr":0.10414,"bic":8450,"ari":0.726},{"params":240,"mcr":0.10414,"bic":8250,"ari":0.726},{"params":241,"mcr":0.10414,"bic":8450,"ari":0.726},{"params":241,"mcr":0.10414,"bic":8250,"ari":0.726},{"params":242,"mcr":0.10414,"bic":8450,"ari":0.725},{"params":242,"mcr":0.10414,"bic":8250,"ari":0.725},{"params":243,"mcr":0.10414,"bic":8450,"ari":0.726},{"params":243,"mcr":0.10414,"bic":8250,"ari":0.726},{"params":244,"mcr":0.10414,"bic":8450,"ari":0.726},{"params":244,"mcr":0.10414,"bic":8250,"ari":0.726},{"params":245,"mcr":0.10414,"bic":8450,"ari":0.725},{"params":245,"mcr":0.10414,"bic":8250,"ari":0.725},{"params":246,"mcr":0.10414,"bic":8450,"ari":0.726},{"params":246,"mcr":0.10414,"bic":8250,"ari":0.726},{"params":247,"mcr":0.10414,"bic":8450,"ari":0.726},{"params":247,"mcr":0.10414,"bic":8250,"ari":0.726},{"params":248,"mcr":0.10414,"bic":8450,"ari":0.726},{"params":248,"mcr":0.10414,"bic":8250,"ari":0.726},{"params":249,"mcr":0.10414,"bic":8450,"ari":0.726},{"params":249,"mcr":0.10414,"bic":8250,"ari":0.726},{"params":250,"mcr":0.10414,"bic":8330,"ari":0.726},{"params":250,"mcr":0.10414,"bic":8130,"ari":0.726},{"params":251,"mcr":0.10414,"bic":8330,"ari":0.725},{"params":251,"mcr":0.10414,"bic":8130,"ari":0.725},{"params":252,"mcr":0.10414,"bic":8330,"ari":0.726},{"params":252,"mcr":0.10414,"bic":8130,"ari":0.726},{"params":253,"mcr":0.10414,"bic":8330,"ari":0.726},{"params":253,"mcr":0.10414,"bic":8130,"ari":0.726},{"params":254,"mcr":0.10414,"bic":8450,"ari":0.725},{"params":254,"mcr":0.10414,"bic":8250,"ari":0.725},{"params":255,"mcr":0.10414,"bic":8170,"ari":0.726},{"params":255,"mcr":0.10414,"bic":7970,"ari":0.726},{"params":256,"mcr":0.10414,"bic":8330,"ari":0.726},{"params":256,"mcr":0.10414,"bic":8130,"ari":0.726},{"params":257,"mcr":0.10414,"bic":8220,"ari":0.725},{"params":257,"mcr":0.10414,"bic":8020,"ari":0.725},{"params":258,"mcr":0.10414,"bic":8450,"ari":0.726},{"params":258,"mcr":0.10414,"bic":8250,"ari":0.726},{"params":259,"mcr":0.10414,"bic":8220,"ari":0.725},{"params":259,"mcr":0.10414,"bic":8020,"ari":0.725},{"params":260,"mcr":0.10414,"bic":8330,"ari":0.726},{"params":260,"mcr":0.10414,"bic":8130,"ari":0.726},{"params":261,"mcr":0.10414,"bic":8380,"ari":0.726},{"params":261,"mcr":0.10414,"bic":8180,"ari":0.726},{"params":262,"mcr":0.10414,"bic":8000,"ari":0.725},{"params":263,"mcr":0.10414,"bic":8330,"ari":0.726},{"params":263,"mcr":0.10414,"bic":8130,"ari":0.726},{"params":264,"mcr":0.10414,"bic":8000,"ari":0.725},{"params":265,"mcr":0.10414,"bic":8380,"ari":0.726},{"params":265,"mcr":0.10414,"bic":8180,"ari":0.726},{"params":266,"mcr":0.10414,"bic":8380,"ari":0.725},{"params":267,"mcr":0.10414,"bic":8330,"ari":0.726},{"params":267,"mcr":0.10414,"bic":8130,"ari":0.726},{"params":268,"mcr":0.10414,"bic":8220,"ari":0.726},{"params":268,"mcr":0.10414,"bic":8020,"ari":0.726},{"params":269,"mcr":0.10414,"bic":8000,"ari":0.725},{"params":270,"mcr":0.10414,"bic":8330,"ari":0.726},{"params":270,"mcr":0.10414,"bic":8130,"ari":0.726},{"params":271,"mcr":0.10414,"bic":8000,"ari":0.725},{"params":272,"mcr":0.10414,"bic":8330,"ari":0.726},{"params":272,"mcr":0.10414,"bic":8130,"ari":0.726},
      {"params":230,"mcr":0.10296,"bic":8790,"ari":0.728},{"params":232,"mcr":0.10296,"bic":8500,"ari":0.728},{"params":234,"mcr":0.10296,"bic":8500,"ari":0.729},{"params":236,"mcr":0.10296,"bic":8650,"ari":0.731},{"params":236,"mcr":0.10296,"bic":8450,"ari":0.731},{"params":238,"mcr":0.10296,"bic":8500,"ari":0.729},{"params":238,"mcr":0.10296,"bic":8300,"ari":0.729},{"params":239,"mcr":0.10296,"bic":8500,"ari":0.728},{"params":240,"mcr":0.10296,"bic":8500,"ari":0.729},{"params":240,"mcr":0.10296,"bic":8300,"ari":0.729},{"params":242,"mcr":0.10296,"bic":8580,"ari":0.730},{"params":242,"mcr":0.10296,"bic":8380,"ari":0.730},{"params":243,"mcr":0.10296,"bic":8500,"ari":0.730},{"params":243,"mcr":0.10296,"bic":8300,"ari":0.730},{"params":244,"mcr":0.10296,"bic":8450,"ari":0.729},{"params":244,"mcr":0.10296,"bic":8250,"ari":0.729},{"params":245,"mcr":0.10296,"bic":8450,"ari":0.729},{"params":245,"mcr":0.10296,"bic":8250,"ari":0.729},{"params":248,"mcr":0.10296,"bic":8330,"ari":0.729},{"params":248,"mcr":0.10296,"bic":8130,"ari":0.729},{"params":249,"mcr":0.10296,"bic":8450,"ari":0.730},{"params":249,"mcr":0.10296,"bic":8250,"ari":0.730},{"params":250,"mcr":0.10296,"bic":8330,"ari":0.730},{"params":250,"mcr":0.10296,"bic":8130,"ari":0.730},{"params":251,"mcr":0.10296,"bic":8330,"ari":0.730},{"params":251,"mcr":0.10296,"bic":8130,"ari":0.730},{"params":252,"mcr":0.10296,"bic":8330,"ari":0.729},{"params":252,"mcr":0.10296,"bic":8130,"ari":0.729},{"params":253,"mcr":0.10296,"bic":8330,"ari":0.730},{"params":253,"mcr":0.10296,"bic":8130,"ari":0.730},{"params":254,"mcr":0.10296,"bic":8500,"ari":0.730},{"params":254,"mcr":0.10296,"bic":8300,"ari":0.730},{"params":255,"mcr":0.10296,"bic":8170,"ari":0.730},{"params":256,"mcr":0.10296,"bic":8220,"ari":0.729},{"params":256,"mcr":0.10296,"bic":8020,"ari":0.729},{"params":258,"mcr":0.10296,"bic":8450,"ari":0.729},{"params":258,"mcr":0.10296,"bic":8250,"ari":0.729},{"params":259,"mcr":0.10296,"bic":8000,"ari":0.729},{"params":260,"mcr":0.10296,"bic":8220,"ari":0.730},{"params":260,"mcr":0.10296,"bic":8020,"ari":0.730},{"params":261,"mcr":0.10296,"bic":8170,"ari":0.729},{"params":261,"mcr":0.10296,"bic":7970,"ari":0.729},{"params":262,"mcr":0.10296,"bic":8000,"ari":0.729},{"params":263,"mcr":0.10296,"bic":8220,"ari":0.730},{"params":263,"mcr":0.10296,"bic":8020,"ari":0.730},{"params":264,"mcr":0.10296,"bic":8000,"ari":0.729},{"params":265,"mcr":0.10296,"bic":8380,"ari":0.732},{"params":265,"mcr":0.10296,"bic":8180,"ari":0.732},{"params":267,"mcr":0.10296,"bic":8170,"ari":0.730},{"params":267,"mcr":0.10296,"bic":7970,"ari":0.730},{"params":268,"mcr":0.10296,"bic":8220,"ari":0.730},{"params":268,"mcr":0.10296,"bic":8020,"ari":0.730},{"params":269,"mcr":0.10296,"bic":7900,"ari":0.729},{"params":270,"mcr":0.10296,"bic":8220,"ari":0.730},{"params":270,"mcr":0.10296,"bic":8020,"ari":0.730},{"params":271,"mcr":0.10296,"bic":7900,"ari":0.729},{"params":272,"mcr":0.10296,"bic":8330,"ari":0.730},{"params":272,"mcr":0.10296,"bic":8130,"ari":0.730},{"params":276,"mcr":0.10296,"bic":7960,"ari":0.729},
      {"params":238,"mcr":0.10178,"bic":8720,"ari":0.731},{"params":240,"mcr":0.10178,"bic":8580,"ari":0.732},{"params":241,"mcr":0.10178,"bic":8650,"ari":0.734},{"params":241,"mcr":0.10178,"bic":8450,"ari":0.734},{"params":242,"mcr":0.10178,"bic":8500,"ari":0.733},{"params":243,"mcr":0.10178,"bic":8650,"ari":0.733},{"params":243,"mcr":0.10178,"bic":8450,"ari":0.733},{"params":244,"mcr":0.10178,"bic":8330,"ari":0.732},{"params":245,"mcr":0.10178,"bic":8500,"ari":0.733},{"params":246,"mcr":0.10178,"bic":8170,"ari":0.732},{"params":247,"mcr":0.10178,"bic":8650,"ari":0.735},{"params":247,"mcr":0.10178,"bic":8450,"ari":0.735},{"params":249,"mcr":0.10178,"bic":8330,"ari":0.733},{"params":249,"mcr":0.10178,"bic":8130,"ari":0.733},{"params":251,"mcr":0.10178,"bic":8220,"ari":0.732},{"params":252,"mcr":0.10178,"bic":8330,"ari":0.734},{"params":252,"mcr":0.10178,"bic":8130,"ari":0.734},{"params":253,"mcr":0.10178,"bic":8500,"ari":0.734},{"params":253,"mcr":0.10178,"bic":8300,"ari":0.734},{"params":254,"mcr":0.10178,"bic":8170,"ari":0.732},{"params":255,"mcr":0.10178,"bic":8170,"ari":0.733},{"params":256,"mcr":0.10178,"bic":8220,"ari":0.734},{"params":256,"mcr":0.10178,"bic":8020,"ari":0.734},{"params":257,"mcr":0.10178,"bic":8000,"ari":0.733},{"params":258,"mcr":0.10178,"bic":8330,"ari":0.733},{"params":258,"mcr":0.10178,"bic":8130,"ari":0.733},{"params":260,"mcr":0.10178,"bic":8220,"ari":0.734},{"params":260,"mcr":0.10178,"bic":8020,"ari":0.734},{"params":262,"mcr":0.10178,"bic":8120,"ari":0.731},{"params":264,"mcr":0.10178,"bic":8170,"ari":0.731},{"params":265,"mcr":0.10178,"bic":8220,"ari":0.733},{"params":265,"mcr":0.10178,"bic":8020,"ari":0.733},{"params":267,"mcr":0.10178,"bic":8270,"ari":0.735},{"params":267,"mcr":0.10178,"bic":8070,"ari":0.735},{"params":269,"mcr":0.10178,"bic":8220,"ari":0.731},{"params":270,"mcr":0.10178,"bic":8270,"ari":0.733},{"params":270,"mcr":0.10178,"bic":8070,"ari":0.733},{"params":274,"mcr":0.10178,"bic":8170,"ari":0.732},{"params":274,"mcr":0.10178,"bic":7970,"ari":0.732},
      {"params":243,"mcr":0.10059,"bic":8580,"ari":0.735},{"params":245,"mcr":0.10059,"bic":8500,"ari":0.737},{"params":245,"mcr":0.10059,"bic":8300,"ari":0.737},{"params":246,"mcr":0.10059,"bic":8220,"ari":0.736},{"params":247,"mcr":0.10059,"bic":8450,"ari":0.736},{"params":247,"mcr":0.10059,"bic":8250,"ari":0.736},{"params":248,"mcr":0.10059,"bic":8450,"ari":0.736},{"params":248,"mcr":0.10059,"bic":8250,"ari":0.736},{"params":249,"mcr":0.10059,"bic":8330,"ari":0.736},{"params":249,"mcr":0.10059,"bic":8130,"ari":0.736},{"params":250,"mcr":0.10059,"bic":8450,"ari":0.736},{"params":250,"mcr":0.10059,"bic":8250,"ari":0.736},{"params":251,"mcr":0.10059,"bic":8330,"ari":0.736},{"params":251,"mcr":0.10059,"bic":8130,"ari":0.736},{"params":252,"mcr":0.10059,"bic":8450,"ari":0.737},{"params":252,"mcr":0.10059,"bic":8250,"ari":0.737},{"params":255,"mcr":0.10059,"bic":8220,"ari":0.735},{"params":258,"mcr":0.10059,"bic":8220,"ari":0.736},{"params":258,"mcr":0.10059,"bic":8020,"ari":0.736},{"params":260,"mcr":0.10059,"bic":8330,"ari":0.737},{"params":260,"mcr":0.10059,"bic":8130,"ari":0.737},{"params":261,"mcr":0.10059,"bic":8170,"ari":0.735},{"params":263,"mcr":0.10059,"bic":8220,"ari":0.737},{"params":263,"mcr":0.10059,"bic":8020,"ari":0.737},{"params":269,"mcr":0.10059,"bic":8170,"ari":0.735},{"params":272,"mcr":0.10059,"bic":8270,"ari":0.735},
      {"params":247,"mcr":0.09941,"bic":8650,"ari":0.738},{"params":250,"mcr":0.09941,"bic":8650,"ari":0.737},{"params":255,"mcr":0.09941,"bic":8380,"ari":0.737},{"params":258,"mcr":0.09941,"bic":8380,"ari":0.737},
      {"params":251,"mcr":0.09822,"bic":8220,"ari":0.737}
    ],
    "labels": [
      {"params":268.0,"mcr":0.1164,"label":"MCR = 0.116"},
      {"params":270.0,"mcr":0.11148,"label":"Best BIC"},
      {"params":246.5,"mcr":0.09827,"label":"Best ARI"}
    ],
    "pointer": [
      {"params":270.1,"mcr":0.11095,"params_end":262.07,"mcr_end":0.10764}
    ]
  },
  "encoding": {
    "x": {
      "field": "params",
      "type": "quantitative",
      "scale": {"domain": [206.71, 279.29], "nice": false, "zero": false},
      "axis": {"title": "Number of Model Parameters", "values": [220, 240, 260], "titlePadding": 0, "labelPadding": 1}
    },
    "y": {
      "field": "mcr",
      "type": "quantitative",
      "scale": {"domain": [0.096896, 0.126748], "nice": false, "zero": false},
      "axis": {"title": "MCR", "values": [0.10, 0.11, 0.12], "format": ".2f", "titlePadding": 9, "titleY": 295}
    }
  },
  "layer": [
    {
      "data": {"name": "models"},
      "mark": {
        "type": "point",
        "filled": true,
        "shape": "M -1.38 0 A 1.38 1 0 1 0 1.38 0 A 1.38 1 0 1 0 -1.38 0 Z",
        "fillOpacity": 0.5,
        "strokeWidth": 0
      },
      "encoding": {
        "size": {
          "field": "bic",
          "type": "quantitative",
          "title": "BIC",
          "scale": {"domain": [7880, 8800], "range": [46, 401], "zero": false},
          "legend": {
            "orient": "none",
            "legendX": 1044,
            "legendY": 131,
            "values": [8000, 8200, 8400, 8600],
            "format": "d",
            "gridAlign": "all",
            "symbolType": "M -1.38 0 A 1.38 1 0 1 0 1.38 0 A 1.38 1 0 1 0 -1.38 0 Z",
            "symbolFillColor": "#888888",
            "symbolStrokeColor": "#888888",
            "symbolStrokeWidth": 0,
            "symbolOpacity": 1,
            "symbolOffset": 8,
            "labelOffset": 18,
            "titlePadding": 9,
            "rowPadding": 6,
            "encode": {"symbols": {"update": {"fillOpacity": {"value": 1}, "opacity": {"value": 1}}}}
          }
        },
        "color": {
          "field": "ari",
          "type": "quantitative",
          "title": "ARI",
          "scale": {"scheme": "viridis", "reverse": true, "domain": [0.681, 0.739]},
          "legend": {
            "orient": "none",
            "legendX": 1044,
            "legendY": 283,
            "direction": "vertical",
            "values": [0.69, 0.70, 0.71, 0.72, 0.73],
            "format": ".2f",
            "gradientLength": 122,
            "gradientThickness": 34,
            "gradientStrokeWidth": 0,
            "labelOffset": 10,
            "titlePadding": 5
          }
        }
      }
    },
    {
      "data": {"values": [{"params": 206.71, "params_end": 279.29, "mcr": 0.116}]},
      "mark": {"type": "rule", "color": "#000000", "strokeWidth": 1.6, "strokeDash": [1.6, 6.4]},
      "encoding": {"x2": {"field": "params_end"}}
    },
    {
      "data": {"values": [{"params": 247, "mcr": 0.09941}]},
      "mark": {
        "type": "point",
        "filled": false,
        "shape": "M -1.4 0 A 1.4 1 0 1 0 1.4 0 A 1.4 1 0 1 0 -1.4 0 Z",
        "size": 784,
        "color": "#000000",
        "strokeWidth": 2,
        "opacity": 1
      },
      "encoding": {}
    },
    {
      "data": {"name": "pointer"},
      "mark": {"type": "rule", "color": "#000000", "strokeWidth": 2},
      "encoding": {"x2": {"field": "params_end"}, "y2": {"field": "mcr_end"}}
    },
    {
      "data": {"name": "pointer"},
      "mark": {
        "type": "point",
        "filled": false,
        "shape": "M -0.55 1 L 0 0 L 0.55 1",
        "size": 784,
        "angle": 241,
        "color": "#000000",
        "strokeWidth": 2,
        "opacity": 1
      },
      "encoding": {"x": {"field": "params_end", "type": "quantitative"}, "y": {"field": "mcr_end", "type": "quantitative"}}
    },
    {
      "data": {"name": "labels"},
      "mark": {"type": "text", "align": "center", "baseline": "middle", "font": "DejaVu Sans", "fontSize": 13, "color": "#000000"},
      "encoding": {"text": {"field": "label"}}
    }
  ]
}
